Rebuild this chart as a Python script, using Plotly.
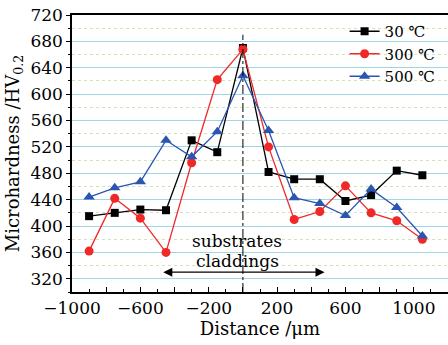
import plotly.graph_objects as go

distance = [-900, -750, -600, -450, -300, -150, 0, 150, 300, 450, 600, 750, 900, 1050]
hv_30 = [415, 420, 425, 424, 530, 512, 670, 482, 471, 471, 438, 447, 484, 477]
hv_300 = [362, 442, 412, 360, 496, 622, 668, 520, 410, 422, 461, 420, 408, 380]
hv_500 = [444, 458, 467, 530, 505, 543, 628, 545, 443, 434, 416, 456, 428, 385]
series_names = ["30 ℃", "300 ℃", "500 ℃"]

x_tickvals = [-1000, -800, -600, -400, -200, 0, 200, 400, 600, 800, 1000, 1200]
x_ticktext = ["−1000", "", "−600", "", "−200", "", "200", "", "600", "", "1000", ""]
y_tickvals = [320, 360, 400, 440, 480, 520, 560, 600, 640, 680, 720]

FONT = "DejaVu Serif"

fig = go.Figure()
fig.add_trace(go.Scatter(x=distance, y=hv_30, name=series_names[0], mode="lines+markers",
                         line=dict(color="black", width=1.3),
                         marker=dict(symbol="square", size=8, color="black")))
fig.add_trace(go.Scatter(x=distance, y=hv_300, name=series_names[1], mode="lines+markers",
                         line=dict(color="#f02828", width=1.3),
                         marker=dict(symbol="circle", size=9, color="#f02828")))
fig.add_trace(go.Scatter(x=distance, y=hv_500, name=series_names[2], mode="lines+markers",
                         line=dict(color="#2a55b0", width=1.3),
                         marker=dict(symbol="triangle-up", size=10, color="#2a55b0")))

# vertical dash-dot line at interface
fig.add_shape(type="line", x0=0, x1=0, y0=300, y1=690, xref="x", yref="y",
              line=dict(color="black", width=1, dash="dashdot"))

# double arrow
fig.add_annotation(x=478, y=330, ax=-475, ay=330, xref="x", yref="y", axref="x", ayref="y",
                   text="", showarrow=True, arrowside="end+start", arrowhead=2,
                   arrowsize=1.4, arrowwidth=1.3, arrowcolor="black")
fig.add_annotation(x=-32, y=378, xref="x", yref="y", text="substrates", showarrow=False,
                   font=dict(family=FONT, size=17, color="black"))
fig.add_annotation(x=-32, y=347, xref="x", yref="y", text="claddings", showarrow=False,
                   font=dict(family=FONT, size=17, color="black"))

fig.update_layout(
    width=448, height=345,
    margin=dict(l=72, r=0, t=15, b=53, autoexpand=False),
    paper_bgcolor="white", plot_bgcolor="white",
    font=dict(family=FONT, size=17, color="black"),
    showlegend=True,
    legend=dict(x=0.725, y=1.0, xanchor="left", yanchor="top",
                bgcolor="rgba(0,0,0,0)", font=dict(family=FONT, size=15),
                tracegroupgap=0, itemwidth=30),
)
fig.update_xaxes(
    range=[-1000, 1200], tickvals=x_tickvals, ticktext=x_ticktext,
    ticks="inside", ticklen=5, tickwidth=1.2, tickcolor="black",
    minor=dict(dtick=100, tick0=-1000, ticks="inside", ticklen=3, tickwidth=1.2, tickcolor="black",
               showgrid=False),
    showline=True, linecolor="black", linewidth=1.5, mirror=True,
    showgrid=False, zeroline=False, automargin=False,
    tickfont=dict(family=FONT, size=17),
    title=dict(text="Distance /μm", font=dict(family=FONT, size=18), standoff=4),
)
fig.update_yaxes(
    range=[300, 720], tickvals=y_tickvals,
    ticks="outside", ticklen=4, tickwidth=1.2, tickcolor="black",
    minor=dict(dtick=20, tick0=300, ticks="outside", ticklen=2, tickwidth=1, tickcolor="black",
               showgrid=True, gridcolor="#d4e2b8", griddash="dot", gridwidth=1),
    showline=True, linecolor="black", linewidth=1.5,
    showgrid=True, gridcolor="#9fd6e4", gridwidth=1, zeroline=False, automargin=False,
    tickfont=dict(family=FONT, size=17),
    title=dict(text="Microhardness /HV<sub>0.2</sub>", font=dict(family=FONT, size=18), standoff=6),
)

fig.write_html("out.html", config={"displayModeBar": False},
               post_script="document.body.style.margin='0';")
